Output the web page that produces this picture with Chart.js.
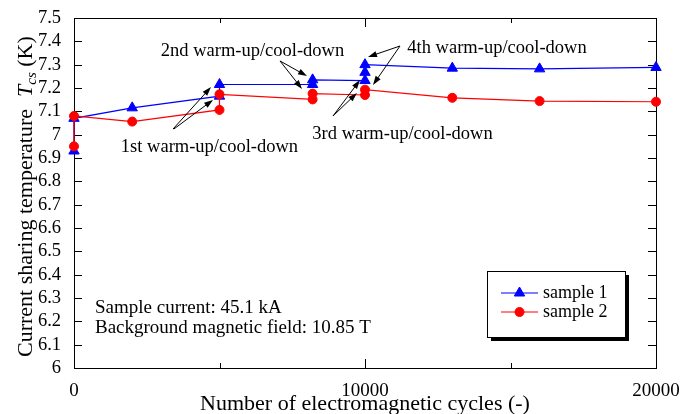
<!DOCTYPE html>
<html lang="en">
<head>
<meta charset="UTF-8">
<title>Current sharing temperature vs cycles</title>
<script src="https://cdn.jsdelivr.net/npm/chart.js"></script>
<style>
  body { margin: 0; background: #fff; }
</style>
</head>
<body>
<canvas id="tcsChart" width="694" height="414"></canvas>
<script>
// values (cycles, Tcs in K)
const cycles1 = [0, 0, 2000, 5000, 5000, 8200, 8200, 10000, 10000, 10000, 13000, 16000, 20000];
const tcs1 = [6.93, 7.07, 7.115, 7.165, 7.215, 7.215, 7.235, 7.232, 7.267, 7.30, 7.285, 7.282, 7.288];
const cycles2 = [0, 0, 2000, 5000, 5000, 8200, 8200, 10000, 10000, 13000, 16000, 20000];
const tcs2 = [6.95, 7.08, 7.056, 7.106, 7.173, 7.151, 7.176, 7.17, 7.193, 7.158, 7.144, 7.141];
const seriesNames = ['sample 1', 'sample 2'];
const xLabelled = [0, 10000, 20000];

const infoLines = ['Sample current: 45.1 kA', 'Background magnetic field: 10.85 T'];
const noteTexts = ['1st warm-up/cool-down', '2nd warm-up/cool-down', '3rd warm-up/cool-down', '4th warm-up/cool-down'];

// annotation placement, in data units
const notePos = [[4656, 6.926], [6134, 7.337], [11289, 6.981], [14536, 7.35]];
const arrows = [
  [[3402, 7.024], [4708, 7.204]], [[3430, 7.024], [4777, 7.149]],
  [[7079, 7.316], [8007, 7.251]], [[7079, 7.316], [7835, 7.196]],
  [[8900, 7.08], [9828, 7.234]], [[8900, 7.08], [9725, 7.179]],
  [[11203, 7.38], [10103, 7.333]], [[11203, 7.38], [10275, 7.213]]
];

const FONT = "'Liberation Serif', 'Times New Roman', serif";
const toPoints = (xs, ys) => xs.map((x, i) => ({ x: x, y: ys[i] }));

function arrow(ctx, x1, y1, x2, y2) {
  const ang = Math.atan2(y2 - y1, x2 - x1), L = 9, W = 3;
  ctx.beginPath();
  ctx.moveTo(x1, y1);
  ctx.lineTo(x2 - Math.cos(ang) * L * 0.8, y2 - Math.sin(ang) * L * 0.8);
  ctx.stroke();
  ctx.beginPath();
  ctx.moveTo(x2, y2);
  ctx.lineTo(x2 - Math.cos(ang) * L + Math.sin(ang) * W, y2 - Math.sin(ang) * L - Math.cos(ang) * W);
  ctx.lineTo(x2 - Math.cos(ang) * L - Math.sin(ang) * W, y2 - Math.sin(ang) * L + Math.cos(ang) * W);
  ctx.closePath();
  ctx.fill();
}

const framePlugin = {
  id: 'frame',
  beforeDatasetsDraw(chart) {
    const ctx = chart.ctx, a = chart.chartArea, xs = chart.scales.x, ys = chart.scales.y;
    ctx.save();
    ctx.strokeStyle = '#000';
    ctx.lineWidth = 1;
    ctx.strokeRect(a.left + 0.5, a.top + 0.5, a.right - a.left, a.bottom - a.top);
    ctx.beginPath();
    ys.ticks.forEach(t => {
      const y = Math.round(ys.getPixelForValue(t.value)) + 0.5;
      ctx.moveTo(a.left, y); ctx.lineTo(a.left + 8, y);
      ctx.moveTo(a.right, y); ctx.lineTo(a.right - 8, y);
    });
    xs.ticks.forEach(t => {
      const x = Math.round(xs.getPixelForValue(t.value)) + 0.5;
      const len = xLabelled.includes(t.value) ? 9 : 5;
      ctx.moveTo(x, a.bottom); ctx.lineTo(x, a.bottom - len);
      ctx.moveTo(x, a.top); ctx.lineTo(x, a.top + len);
    });
    ctx.stroke();
    ctx.restore();
  },
  afterDraw(chart) {
    const ctx = chart.ctx, a = chart.chartArea, xs = chart.scales.x, ys = chart.scales.y;
    const px = (p) => [xs.getPixelForValue(p[0]), ys.getPixelForValue(p[1])];
    ctx.save();
    ctx.fillStyle = '#000';
    ctx.strokeStyle = '#000';
    ctx.lineWidth = 1;

    // notes + arrows
    ctx.font = '18.5px ' + FONT;
    ctx.textAlign = 'center';
    ctx.textBaseline = 'alphabetic';
    noteTexts.forEach((t, i) => {
      const [x, y] = px(notePos[i]);
      ctx.fillText(t, x, y);
    });
    arrows.forEach(([p, q]) => {
      const [x1, y1] = px(p), [x2, y2] = px(q);
      arrow(ctx, x1, y1, x2, y2);
    });

    // info text
    ctx.font = '19px ' + FONT;
    ctx.textAlign = 'left';
    infoLines.forEach((t, i) => ctx.fillText(t, a.left + 21, 313 + i * 19.5));

    // legend box with shadow
    const lx = 487, ly = 271, lw = 138, lh = 66;
    ctx.fillRect(lx + 4, ly + 4, lw, lh);
    ctx.fillStyle = '#fff';
    ctx.fillRect(lx, ly, lw, lh);
    ctx.strokeRect(lx + 0.5, ly + 0.5, lw, lh);
    chart.data.datasets.forEach((ds, i) => {
      const y = 293 + i * 19;
      ctx.strokeStyle = ds.borderColor;
      ctx.fillStyle = ds.backgroundColor;
      ctx.lineWidth = 1.2;
      ctx.beginPath();
      ctx.moveTo(501, y); ctx.lineTo(538, y);
      ctx.stroke();
      ctx.lineWidth = 1;
      Chart.helpers.drawPoint(ctx, {
        pointStyle: ds.pointStyle, radius: ds.pointRadius, borderWidth: 1, rotation: 0
      }, 519.5, y);
      ctx.fillStyle = '#000';
      ctx.font = '18px ' + FONT;
      ctx.textBaseline = 'middle';
      ctx.fillText(ds.label, 543, y);
    });

    // axis titles
    ctx.fillStyle = '#000';
    ctx.textBaseline = 'alphabetic';
    ctx.font = '22px ' + FONT;
    ctx.textAlign = 'center';
    ctx.fillText('Number of electromagnetic cycles (-)', (a.left + a.right) / 2, 410);

    ctx.translate(32, 357);
    ctx.rotate(-Math.PI / 2);
    ctx.textAlign = 'left';
    let cx = 0;
    const piece = (txt, font, dy) => {
      ctx.font = font;
      ctx.fillText(txt, cx, dy);
      cx += ctx.measureText(txt).width;
    };
    piece('Current sharing temperature', '22px ' + FONT, 0);
    cx += 12;
    piece('T', 'italic 22px ' + FONT, 0);
    piece('cs', 'italic 15px ' + FONT, 4);
    piece(' (K)', '22px ' + FONT, 0);
    ctx.restore();
  }
};

const ctx = document.getElementById('tcsChart').getContext('2d');
new Chart(ctx, {
  type: 'scatter',
  data: {
    datasets: [
      {
        label: seriesNames[0],
        data: toPoints(cycles1, tcs1),
        showLine: true,
        borderColor: '#0000ff',
        backgroundColor: '#0000ff',
        borderWidth: 1.2,
        pointStyle: 'triangle',
        pointRadius: 6,
        pointBorderWidth: 1,
        tension: 0,
        clip: false,
        order: 2
      },
      {
        label: seriesNames[1],
        data: toPoints(cycles2, tcs2),
        showLine: true,
        borderColor: '#ff0000',
        backgroundColor: '#ff0000',
        borderWidth: 1.2,
        pointStyle: 'circle',
        pointRadius: 4.5,
        pointBorderWidth: 1,
        tension: 0,
        clip: false,
        order: 1
      }
    ]
  },
  options: {
    responsive: false,
    animation: false,
    layout: { padding: { top: 18, right: 38, left: 0, bottom: 0 } },
    plugins: {
      legend: { display: false },
      tooltip: { enabled: false }
    },
    scales: {
      x: {
        type: 'linear',
        min: 0,
        max: 20000,
        grid: { display: false },
        border: { display: false },
        ticks: {
          stepSize: 5000,
          padding: 4,
          autoSkip: false,
          color: '#000',
          font: { family: FONT, size: 19 },
          maxRotation: 0,
          callback: v => xLabelled.includes(v) ? String(v) : ''
        },
        afterFit: s => { s.height = 46; }
      },
      y: {
        min: 6,
        max: 7.5,
        grid: { display: false },
        border: { display: false },
        ticks: {
          stepSize: 0.1,
          padding: 5,
          autoSkip: false,
          color: '#000',
          font: { family: FONT, size: 18.5 },
          callback: v => String(Math.round(v * 10) / 10)
        },
        afterFit: s => { s.width = 74; }
      }
    }
  },
  plugins: [framePlugin]
});
</script>
</body>
</html>
